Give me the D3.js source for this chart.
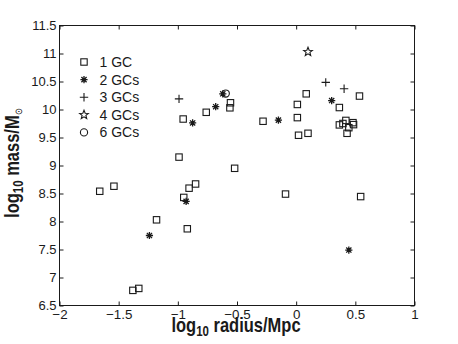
<!DOCTYPE html>
<html><head><meta charset="utf-8">
<script src="https://cdn.jsdelivr.net/npm/d3@7"></script>
<style>
html,body{margin:0;padding:0;background:#fff;}
svg{display:block;font-family:"Liberation Sans",Arial,Helvetica,sans-serif;}
</style></head>
<body><svg id="chart" width="458" height="344"></svg>
<script>
// ---- data ----
const xTicks = [-2, -1.5, -1, -0.5, 0, 0.5, 1];
const yTicks = [6.5, 7, 7.5, 8, 8.5, 9, 9.5, 10, 10.5, 11, 11.5];
const legendLabels = ["1 GC", "2 GCs", "3 GCs", "4 GCs", "6 GCs"];

const gc1X = [-1.66,-1.54,-1.18,-1.38,-1.33,-0.95,-0.905,-0.85,-0.92,-0.99,-0.955,-0.76,-0.555,-0.56,-0.52,-0.28,-0.09,0.01,0.01,0.02,0.085,0.10,0.365,0.535,0.365,0.395,0.42,0.445,0.48,0.485,0.43,0.545];
const gc1Y = [8.54,8.63,8.03,6.77,6.805,8.43,8.595,8.67,7.87,9.15,9.83,9.95,10.12,10.03,8.95,9.79,8.49,10.09,9.855,9.54,10.28,9.575,10.035,10.24,9.725,9.75,9.805,9.675,9.765,9.73,9.575,8.445];
const gc2X = [-1.24,-0.93,-0.875,-0.68,-0.62,-0.15,0.30,0.445];
const gc2Y = [7.75,8.36,9.76,10.05,10.28,9.81,10.16,7.49];
const gc3X = [-0.99,0.25,0.405];
const gc3Y = [10.19,10.485,10.37];
const gc4X = [0.10];
const gc4Y = [11.03];
const gc6X = [-0.595];
const gc6Y = [10.285];

// ---- layout ----
const svg = d3.select("#chart");
const L = 59.5, R = 414.5, T = 25.5, B = 305.5;
const x = d3.scaleLinear().domain([-2, 1]).range([L, R]);
const y = d3.scaleLinear().domain([6.5, 11.5]).range([B, T]);
const fmt = d => (d < 0 ? "\u2212" : "") + Math.abs(d);
const ink = "#1a1a1a";

// frame
svg.append("rect").attr("x", L).attr("y", T).attr("width", R - L).attr("height", B - T)
  .attr("fill", "none").attr("stroke", ink).attr("stroke-width", 1);

// axes with inward ticks
const tl = 4;
const gx = svg.append("g").attr("transform", `translate(0,${B})`)
  .call(d3.axisBottom(x).tickValues(xTicks).tickSize(-tl).tickPadding(4.5).tickFormat(fmt));
const gxt = svg.append("g").attr("transform", `translate(0,${T})`)
  .call(d3.axisTop(x).tickValues(xTicks).tickSize(-tl).tickFormat(""));
const gy = svg.append("g").attr("transform", `translate(${L},0)`)
  .call(d3.axisLeft(y).tickValues(yTicks).tickSize(-tl).tickPadding(3).tickFormat(fmt));
const gyr = svg.append("g").attr("transform", `translate(${R},0)`)
  .call(d3.axisRight(y).tickValues(yTicks).tickSize(-tl).tickFormat(""));
[gx, gxt, gy, gyr].forEach(g => {
  g.select(".domain").remove();
  g.selectAll("line").attr("stroke", ink);
  g.selectAll("text").attr("fill", ink).style("font-size", "13px")
    .style("font-family", '"Liberation Sans",Arial,sans-serif');
});
gx.selectAll("text").attr("transform", "scale(1.03,1)");

// axis titles
const xt = svg.append("text").attr("transform", `translate(236,331.5) scale(1,1.22)`)
  .attr("text-anchor", "middle").attr("font-weight", "bold").attr("font-size", 16.5).attr("fill", ink);
xt.append("tspan").text("log");
xt.append("tspan").attr("font-size", 11.5).attr("dy", 4).text("10");
xt.append("tspan").attr("dy", -4).text(" radius/Mpc");

const yt = svg.append("text").attr("transform", `translate(18.5,163) scale(1.2,1) rotate(-90)`)
  .attr("text-anchor", "middle").attr("font-weight", "bold").attr("font-size", 16.5).attr("fill", ink);
yt.append("tspan").text("log");
yt.append("tspan").attr("font-size", 11.5).attr("dy", 4).text("10");
yt.append("tspan").attr("dy", -4).text(" mass/M");
yt.append("tspan").attr("font-size", 8).attr("font-weight", "normal").attr("dy", 3).text("\u2299");

// ---- marker drawers ----
function square(g) {
  g.append("rect").attr("x", -3.2).attr("y", -3.2).attr("width", 6.4).attr("height", 6.4)
    .attr("fill", "none").attr("stroke", ink).attr("stroke-width", 1.1);
}
function asterisk(g) {
  const r = 3.6, d = r * 0.72;
  g.append("path").attr("d", `M${-r},0L${r},0M0,${-r}L0,${r}M${-d},${-d}L${d},${d}M${-d},${d}L${d},${-d}`)
    .attr("stroke", ink).attr("stroke-width", 1.3).attr("fill", "none");
  g.append("circle").attr("r", 1.6).attr("fill", ink);
}
function plus(g) {
  const r = 4.2;
  g.append("path").attr("d", `M${-r},0L${r},0M0,${-r}L0,${r}`)
    .attr("stroke", ink).attr("stroke-width", 1.1).attr("fill", "none");
}
function star(g) {
  const pts = [];
  for (let i = 0; i < 10; i++) {
    const a = -Math.PI / 2 + i * Math.PI / 5, rr = i % 2 ? 2.0 : 4.6;
    pts.push([rr * Math.cos(a), rr * Math.sin(a)]);
  }
  g.append("path").attr("d", "M" + pts.join("L") + "Z")
    .attr("fill", "none").attr("stroke", ink).attr("stroke-width", 1.1);
}
function circ(g) {
  g.append("circle").attr("r", 3.6).attr("fill", "none").attr("stroke", ink).attr("stroke-width", 1.1);
}

const series = [
  { xs: gc1X, ys: gc1Y, draw: square },
  { xs: gc2X, ys: gc2Y, draw: asterisk },
  { xs: gc3X, ys: gc3Y, draw: plus },
  { xs: gc4X, ys: gc4Y, draw: star },
  { xs: gc6X, ys: gc6Y, draw: circ }
];

series.forEach(s => {
  s.xs.forEach((xv, i) => {
    const g = svg.append("g").attr("transform", `translate(${x(xv)},${y(s.ys[i])})`);
    s.draw(g);
  });
});

// legend
legendLabels.forEach((lab, i) => {
  const cy = 62 + i * 17.6;
  const g = svg.append("g").attr("transform", `translate(84,${cy})`);
  series[i].draw(g);
  svg.append("text").attr("x", 99.5).attr("y", cy).attr("dy", "0.36em")
    .attr("font-size", 14).attr("fill", ink).text(lab);
});
</script></body></html>
